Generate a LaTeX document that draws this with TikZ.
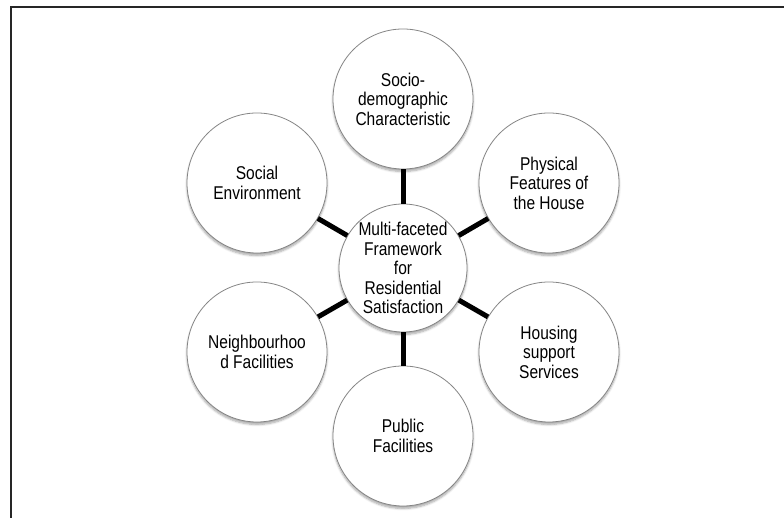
\documentclass[tikz,border=0pt]{standalone}
\usepackage{fontspec}
\setmainfont{Liberation Sans}[FakeStretch=0.84]
\usepackage{tikz}
\usetikzlibrary{shadows.blur}
\definecolor{rim}{HTML}{858585}

\tikzset{
    facet/.style={circle, draw=rim, line width=0.8pt, fill=white, minimum size=140pt,
        inner sep=0pt, align=center, font=\fontsize{18.5}{19.5}\selectfont,
        blur shadow={shadow xshift=0pt, shadow yshift=-2.5pt, shadow blur steps=6, shadow opacity=35}},
    hub/.style={facet, minimum size=128pt},
    spoke/.style={line width=5pt, black}
}

\begin{document}
\begin{tikzpicture}[x=1pt, y=1pt]
    \useasboundingbox (0,0) rectangle (784,518);
    % frame, open to the right and at the bottom
    \draw[line width=1.8pt, black!85] (11,-5) -- (11,511) -- (790,511);
    % hub and the six facets around it
    \node[hub]   (core)  at (403,250) {Multi-faceted\\Framework\\for\\Residential\\Satisfaction};
    \node[facet] (socio) at (403,419) {Socio-\\demographic\\Characteristic};
    \node[facet] (phys)  at (549,335) {Physical\\Features of\\the House};
    \node[facet] (house) at (549,166) {Housing\\support\\Services};
    \node[facet] (publ)  at (403,82)  {Public\\Facilities};
    \node[facet] (neigh) at (257,166) {Neighbourhoo\\d Facilities};
    \node[facet] (soc)   at (257,335) {Social\\Environment};
    \draw[spoke] (core) -- (socio);
    \draw[spoke] (core) -- (phys);
    \draw[spoke] (core) -- (house);
    \draw[spoke] (core) -- (publ);
    \draw[spoke] (core) -- (neigh);
    \draw[spoke] (core) -- (soc);
\end{tikzpicture}
\end{document}
